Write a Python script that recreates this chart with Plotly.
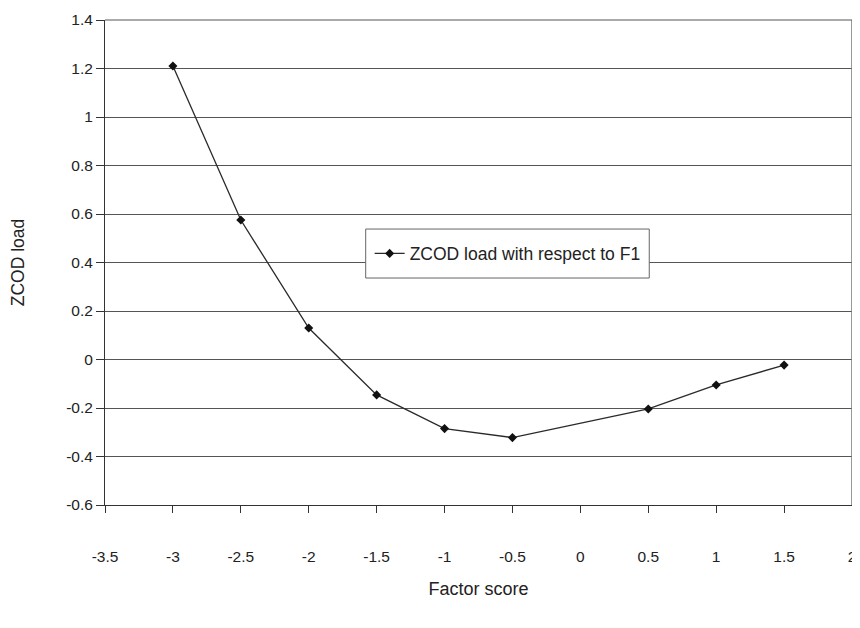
import plotly.graph_objects as go

factor_score = [-3, -2.5, -2, -1.5, -1, -0.5, 0.5, 1, 1.5]
zcod_load = [1.21, 0.575, 0.13, -0.146, -0.285, -0.322, -0.204, -0.105, -0.023]
x_ticks = [-3.5, -3, -2.5, -2, -1.5, -1, -0.5, 0, 0.5, 1, 1.5, 2]
x_tick_labels = ["-3.5", "-3", "-2.5", "-2", "-1.5", "-1", "-0.5", "0", "0.5", "1", "1.5", "2"]
y_ticks = [-0.6, -0.4, -0.2, 0, 0.2, 0.4, 0.6, 0.8, 1, 1.2, 1.4]
y_tick_labels = ["-0.6", "-0.4", "-0.2", "0", "0.2", "0.4", "0.6", "0.8", "1", "1.2", "1.4"]

fig = go.Figure()
fig.add_trace(go.Scatter(
    x=factor_score, y=zcod_load, mode="lines+markers",
    name="ZCOD load with respect to F1",
    line=dict(color="#2a2a2a", width=1.3),
    marker=dict(symbol="diamond", size=7, color="#111111"),
))

font = "Liberation Sans, Arial, sans-serif"
# page body has an 8px margin, so the figure is slightly smaller than the window
fig.update_layout(
    width=852, height=612,
    margin=dict(l=97, r=8, t=12, b=115),
    paper_bgcolor="white", plot_bgcolor="white",
    font=dict(family=font, size=15, color="#222"),
    showlegend=True,
    legend=dict(x=0.539, y=0.5185, xanchor="center", yanchor="middle",
                borderwidth=0, bgcolor="rgba(0,0,0,0)",
                font=dict(size=17.5, color="#222")),
    xaxis=dict(range=[-3.5, 2], tickvals=x_ticks, ticktext=x_tick_labels,
               showgrid=False, zeroline=False, showline=True, linecolor="#333",
               linewidth=1, ticks="outside", ticklen=7, tickcolor="#333",
               tickfont=dict(size=15.5),
               ticklabelstandoff=30, ticklabeloverflow="allow", automargin=False,
               title=dict(text="Factor score", font=dict(size=18), standoff=18)),
    yaxis=dict(range=[-0.6, 1.4], tickvals=y_ticks, ticktext=y_tick_labels,
               showgrid=True, gridcolor="#555", gridwidth=1, zeroline=False,
               showline=True, linecolor="#333", linewidth=1,
               ticks="outside", ticklen=8, tickcolor="#333",
               tickfont=dict(size=15.5),
               ticklabeloverflow="allow", automargin=False,
               title=dict(text="ZCOD load", font=dict(size=17.5), standoff=38)),
)
fig.add_shape(type="line", xref="paper", yref="paper", x0=1, x1=1, y0=0, y1=1,
              line=dict(color="#777", width=1.5))
fig.add_shape(type="line", xref="paper", yref="paper", x0=0, x1=1, y0=1, y1=1,
              line=dict(color="#555", width=1))
fig.add_shape(type="rect", xref="paper", yref="paper", x0=0.349, x1=0.7286,
              y0=0.468, y1=0.569, layer="above", fillcolor="white",
              line=dict(color="#666", width=1))
fig.write_html("out.html")
